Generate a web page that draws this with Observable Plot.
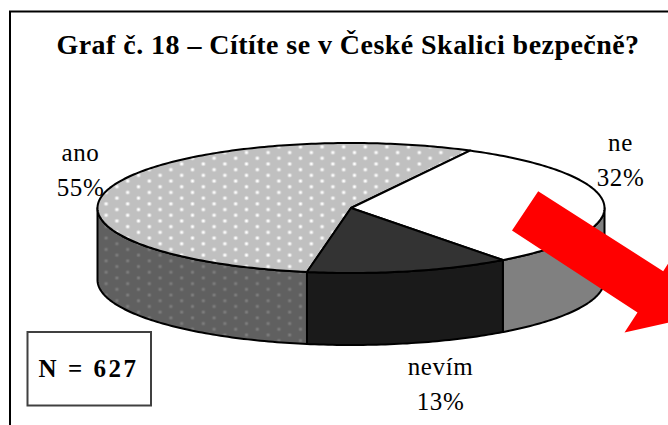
<!DOCTYPE html>
<html><head><meta charset="utf-8">
<script src="https://cdn.jsdelivr.net/npm/d3@7"></script>
<script src="https://cdn.jsdelivr.net/npm/@observablehq/plot@0.6"></script>
<style>html,body{margin:0;padding:0;background:#fff;overflow:hidden}svg{display:block}
.nbox text{letter-spacing:2.5px}.pie-label text{letter-spacing:.6px}.main-title text{letter-spacing:.45px}</style>
</head><body><div id="chart"></div>
<script>
const categories = ["ano", "ne", "nevím"];
const shares = [55, 32, 13];
const sampleSize = 627;
const titleText = "Graf č. 18 – Cítíte se v České Skalici bezpečně?";

// pie geometry (page pixels, mapped through identity x/y scales)
const cx = 350.5, cy = 207.5, rx = 253.5, ry = 65, depth = 72, startDeg = 190;
const topFills = ["url(#dotsTop)", "#ffffff", "#333333"];
const sideFills = ["url(#dotsSide)", "#808080", "#1a1a1a"];
const labelX = [80, 620, 440], labelNameY = [152.5, 142.5, 366.5], labelPctY = [187.5, 177.5, 401.5];

const rad = d => d * Math.PI / 180;
const px = d => cx + rx * Math.sin(rad(d));
const py = d => cy - ry * Math.cos(rad(d));

let a = startDeg;
const slices = categories.map((name, i) => {
  const s = a, e = a + shares[i] * 3.6; a = e;
  return {name, share: shares[i], s, e, top: topFills[i], side: sideFills[i]};
});

const arcDegs = (s, e) => { const out = []; for (let d = s; d < e; d += 1) out.push(d); out.push(e); return out; };

const topRows = slices.map(sl => [{x: cx, y: cy}, ...arcDegs(sl.s, sl.e).map(d => ({x: px(d), y: py(d)}))]);

// visible front wall of each slice: the part of its arc between 90° and 270°
const sideRows = [];
for (const sl of slices) {
  for (const off of [0, 360]) {
    const s = Math.max(sl.s - off, 90), e = Math.min(sl.e - off, 270);
    if (e > s) {
      const degs = arcDegs(s, e);
      sideRows.push({fill: sl.side, pts: [
        ...degs.map(d => ({x: px(d), y: py(d)})),
        ...degs.slice().reverse().map(d => ({x: px(d), y: py(d) + depth}))
      ]});
    }
  }
}

const arrowPoly = [
  {x: 537.7, y: 190.7}, {x: 662.7, y: 270.7}, {x: 676, y: 250}, {x: 690.5, y: 317},
  {x: 624, y: 332}, {x: 637, y: 312}, {x: 511.5, y: 230}
];

const serif = "'Liberation Serif', serif";
const poly = (pts, fill) => Plot.line([...pts, pts[0]], {x: "x", y: "y", fill, stroke: "#000", strokeWidth: 2, strokeLinejoin: "round", curve: "linear"});

const chart = Plot.plot({
  width: 668, height: 425, margin: 0,
  style: {background: "#fff", overflow: "hidden"},
  x: {domain: [0, 668], range: [0, 668], axis: null},
  y: {domain: [0, 425], range: [0, 425], axis: null},
  marks: [
    // outer frame
    Plot.ruleX([9.5], {y1: 11, y2: 425, stroke: "#000", strokeWidth: 2}),
    Plot.ruleY([11], {x1: 9, x2: 668, stroke: "#000", strokeWidth: 2}),
    // pie
    ...sideRows.map(r => poly(r.pts, r.fill)),
    ...slices.map((sl, i) => poly(topRows[i], sl.top)),
    // texts
    Plot.text([titleText], {x: 347.5, y: 45, text: d => d, fontFamily: serif, fontWeight: "bold", fontSize: 28, fill: "#000", className: "main-title"}),
    Plot.text(slices, {x: (d, i) => labelX[i], y: (d, i) => labelNameY[i], text: "name", fontFamily: serif, fontSize: 25, fill: "#000", className: "pie-label"}),
    Plot.text(slices, {x: (d, i) => labelX[i], y: (d, i) => labelPctY[i], text: d => d.share + "%", fontFamily: serif, fontSize: 25, fill: "#000", className: "pie-label"}),
    // N box
    Plot.rect([0], {x1: 27.5, x2: 151, y1: 332, y2: 405.5, fill: "#fff", stroke: "#404040", strokeWidth: 2}),
    Plot.text(["N = " + sampleSize], {x: 88, y: 368, text: d => d, fontFamily: serif, fontWeight: "bold", fontSize: 25, fill: "#000", className: "nbox"}),
    // red arrow
    Plot.line([...arrowPoly, arrowPoly[0]], {x: "x", y: "y", fill: "#ff0000", stroke: "none"})
  ]
});

// dotted pattern fills
const defs = d3.select(chart).insert("defs", ":first-child");
const addDots = (id, bg, dot, dotOp) => {
  const p = defs.append("pattern").attr("id", id).attr("patternUnits", "userSpaceOnUse")
    .attr("x", 3).attr("y", 1).attr("width", 21.6).attr("height", 11.4);
  p.append("rect").attr("width", 21.6).attr("height", 11.4).attr("fill", bg);
  [[5.4, 2.85], [16.2, 8.55]].forEach(([x, y]) => {
    p.append("circle").attr("cx", x).attr("cy", y).attr("r", 2.2).attr("fill", dot).attr("opacity", dotOp * 0.45);
    p.append("circle").attr("cx", x).attr("cy", y).attr("r", 1.2).attr("fill", dot).attr("opacity", dotOp);
  });
};
addDots("dotsTop", "#c0c0c0", "#ffffff", 1);
addDots("dotsSide", "#606060", "#909090", 0.5);

document.getElementById("chart").appendChild(chart);
</script></body></html>
